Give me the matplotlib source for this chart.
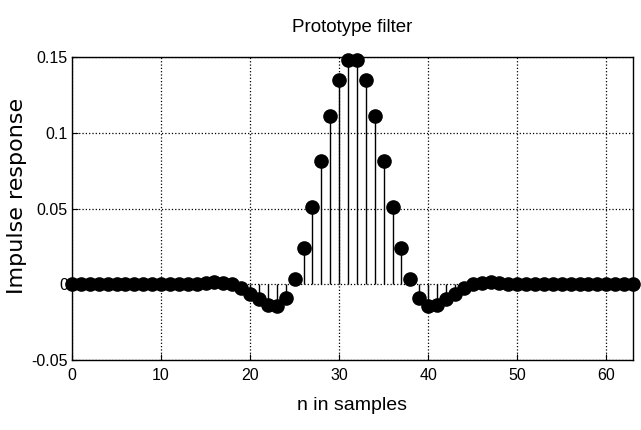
import numpy as np
import matplotlib
matplotlib.use("Agg")
from matplotlib import pyplot as plt

n = np.arange(64)
h = [0.0, 0.0, 0.0, 0.0, 0.0, 0.0, 0.0, 0.0,
     0.0, 0.0, 0.0, 0.0, 0.0, 0.0, 0.0002, 0.001,
     0.0012, 0.001, 0.0, -0.0025, -0.0065, -0.010, -0.0138, -0.0142,
     -0.0092, 0.0035, 0.024, 0.051, 0.0815, 0.111, 0.1345, 0.148,
     0.148, 0.1345, 0.111, 0.0815, 0.051, 0.024, 0.0035, -0.0092,
     -0.0142, -0.0138, -0.010, -0.0065, -0.0025, 0.0, 0.001, 0.0012,
     0.001, 0.0002, 0.0, 0.0, 0.0, 0.0, 0.0, 0.0,
     0.0, 0.0, 0.0, 0.0, 0.0, 0.0, 0.0, 0.0]
xticks = [0, 10, 20, 30, 40, 50, 60]
yticks = [-0.05, 0, 0.05, 0.1, 0.15]
yticklabels = ["-0.05", "0", "0.05", "0.1", "0.15"]

fig = plt.figure(figsize=(6.41, 4.30), dpi=100)
ax = fig.add_axes([0.1123, 0.1628, 0.8752, 0.7046])

ml, sl, bl = ax.stem(n, h, linefmt="k-", markerfmt="ko", basefmt=" ")
plt.setp(sl, linewidth=1.0)
plt.setp(ml, markersize=9.5)
ml.set_clip_on(False)

ax.set_xlim(0, 63)
ax.set_ylim(-0.05, 0.15)
ax.set_xticks(xticks)
ax.set_yticks(yticks)
ax.set_yticklabels(yticklabels)
ax.grid(True, color="black", linestyle=":", linewidth=0.9)
ax.tick_params(direction="in", length=4, labelsize=11.5, pad=3)
ax.tick_params(axis="x", pad=6)
for lab in ax.get_xticklabels() + ax.get_yticklabels():
    lab.set_fontfamily("Liberation Sans")
for s in ax.spines.values():
    s.set_linewidth(1.0)

ax.set_title("Prototype filter", fontsize=13.5, family="Liberation Sans", pad=18)
ax.set_xlabel("n in samples", fontsize=14, family="Liberation Sans", labelpad=10)
ax.set_ylabel("Impulse response", fontsize=16, family="DejaVu Sans")
ax.yaxis.set_label_coords(-0.08, 0.54)

fig.savefig("out.png", dpi=100)
